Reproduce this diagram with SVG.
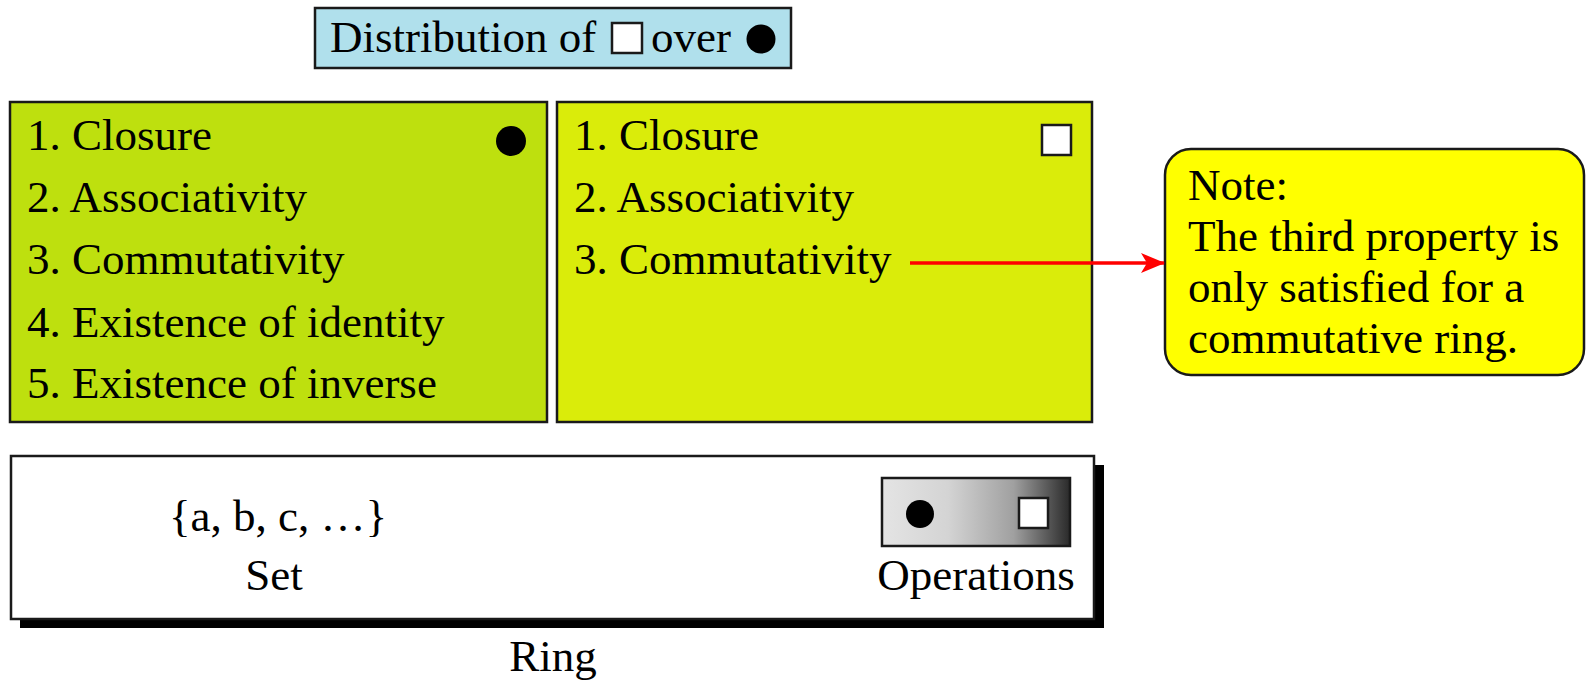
<svg xmlns="http://www.w3.org/2000/svg" width="1586" height="680" viewBox="0 0 1586 680">
  <style>
    text { font-family: "Liberation Serif", "Times New Roman", serif; font-size: 45px; fill: #000; }
    .box { stroke: #1a1a1a; stroke-width: 2.5; }
    .mid { text-anchor: middle; }
  </style>
  <defs>
    <marker id="arrow" viewBox="0 0 24 20" refX="23" refY="10" markerWidth="24" markerHeight="20" markerUnits="userSpaceOnUse" orient="auto">
      <path d="M0,0 L24,10 L0,20 L6,10 Z" fill="#ff0000"/>
    </marker>
    <linearGradient id="opsGrad" x1="0" y1="0" x2="1" y2="0">
      <stop offset="0" stop-color="#e4e4e4"/>
      <stop offset="0.35" stop-color="#d4d4d4"/>
      <stop offset="0.7" stop-color="#a0a0a0"/>
      <stop offset="1" stop-color="#2a2a2a"/>
    </linearGradient>
  </defs>

  <!-- title -->
  <g id="title">
    <rect class="box" x="315" y="8" width="476" height="60" fill="#b0e0ec"/>
    <text x="330" y="52">Distribution of</text>
    <rect x="612" y="23" width="30" height="30" fill="#fff" stroke="#1a1a1a" stroke-width="2.5"/>
    <text x="651" y="52">over</text>
    <circle cx="761" cy="39" r="14.5" fill="#000"/>
  </g>

  <!-- first operation properties -->
  <g id="op1">
    <rect class="box" x="10" y="102" width="537" height="320" fill="#bee00e"/>
    <circle cx="511" cy="141" r="15" fill="#000"/>
    <text x="27" y="150">1. Closure</text>
    <text x="27" y="212">2. Associativity</text>
    <text x="27" y="274">3. Commutativity</text>
    <text x="27" y="337">4. Existence of identity</text>
    <text x="27" y="398">5. Existence of inverse</text>
  </g>

  <!-- second operation properties -->
  <g id="op2">
    <rect class="box" x="557" y="102" width="535" height="320" fill="#daec0a"/>
    <rect x="1042" y="125" width="29" height="30" fill="#fff" stroke="#1a1a1a" stroke-width="2.5"/>
    <text x="574" y="150">1. Closure</text>
    <text x="574" y="212">2. Associativity</text>
    <text x="574" y="274">3. Commutativity</text>
  </g>

  <!-- note -->
  <g id="note">
    <rect class="box" x="1165" y="149" width="419" height="226" rx="26" ry="26" fill="#ffff00"/>
    <text x="1188" y="200">Note:</text>
    <text x="1188" y="251">The third property is</text>
    <text x="1188" y="302">only satisfied for a</text>
    <text x="1188" y="353">commutative ring.</text>
  </g>

  <!-- ring -->
  <g id="ring">
    <rect x="20" y="465" width="1084" height="163" fill="#000"/>
    <rect class="box" x="11" y="456" width="1083" height="163" fill="#fff"/>
    <text class="mid" x="278" y="531">{a, b, c, …}</text>
    <text class="mid" x="274" y="590">Set</text>
    <rect class="box" x="882" y="478" width="188" height="68" fill="url(#opsGrad)"/>
    <circle cx="920" cy="514" r="14" fill="#000"/>
    <rect x="1019" y="498" width="29" height="30" fill="#fff" stroke="#1a1a1a" stroke-width="2.5"/>
    <text class="mid" x="976" y="590">Operations</text>
    <text class="mid" x="553" y="671">Ring</text>
  </g>

  <!-- connectors -->
  <g id="connectors">
    <line x1="910" y1="263" x2="1164" y2="263" stroke="#ff0000" stroke-width="3.5" marker-end="url(#arrow)"/>
  </g>
</svg>
